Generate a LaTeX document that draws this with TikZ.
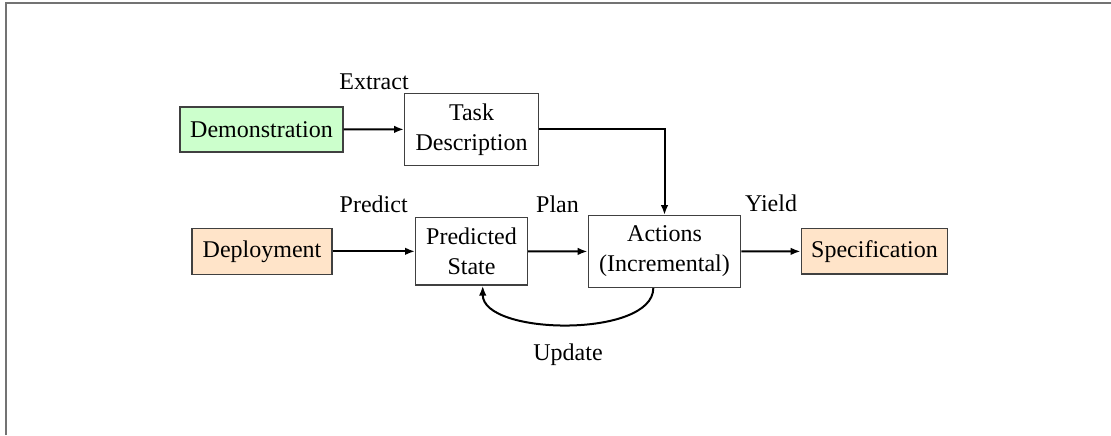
\documentclass[tikz,border=0pt]{standalone}
\usepackage{fontspec}
\setmainfont{Liberation Serif}
\usetikzlibrary{arrows.meta}
\definecolor{demogreen}{HTML}{CCFFCC}
\definecolor{deporange}{HTML}{FFE4C9}
\begin{document}
\begin{tikzpicture}[x=0.5pt,y=-0.5pt,
  every node/.style={font=\fontsize{12}{15}\selectfont, inner sep=0pt, align=center},
  box/.style={draw=black!75, line width=0.7pt},
  lbl/.style={},
  arr/.style={-{Latex[length=5pt,width=3.8pt]}, line width=1pt, black},
  frameline/.style={draw=black!55, line width=1pt}]
\useasboundingbox (0,0) rectangle (1111,435);
\draw[frameline] (5.5,435) -- (5.5,3) -- (1111,3);

\node[box, fill=demogreen, minimum width=81.5pt, minimum height=22.5pt] (demo) at (261.5,129.5) {Demonstration};
\node[box, minimum width=66.8pt, minimum height=36pt] (task) at (471.5,129.3) {Task\\Description};
\node[box, fill=deporange, minimum width=69.85pt, minimum height=23pt] (dep) at (262,251.3) {Deployment};
\node[box, minimum width=55.8pt, minimum height=33.65pt] (pred) at (471.5,251.3) {Predicted\\State};
\node[box, minimum width=76.2pt, minimum height=35.8pt] (act) at (664.5,251.5) {Actions\\(Incremental)};
\node[box, fill=deporange, minimum width=73.2pt, minimum height=22.65pt] (spec) at (874.5,251.3) {Specification};

\node[lbl] (lextract) at (374,81.7) {Extract};
\node[lbl] (lpredict) at (373.7,204) {Predict};
\node[lbl] (lplan) at (557.5,204) {Plan};
\node[lbl] (lyield) at (771,203.3) {Yield};
\node[lbl] (lupdate) at (568,355) {Update};

\draw[arr] (demo) -- (task);
\draw[arr] (task.east) -| (act.north);
\draw[arr] (dep) -- (pred);
\draw[arr] (pred) -- (act);
\draw[arr] (act) -- (spec);
\draw[arr] ([xshift=-5.6pt]act.south) to[out=-90,in=-90,looseness=0.75] ([xshift=5.6pt]pred.south);
\end{tikzpicture}
\end{document}
